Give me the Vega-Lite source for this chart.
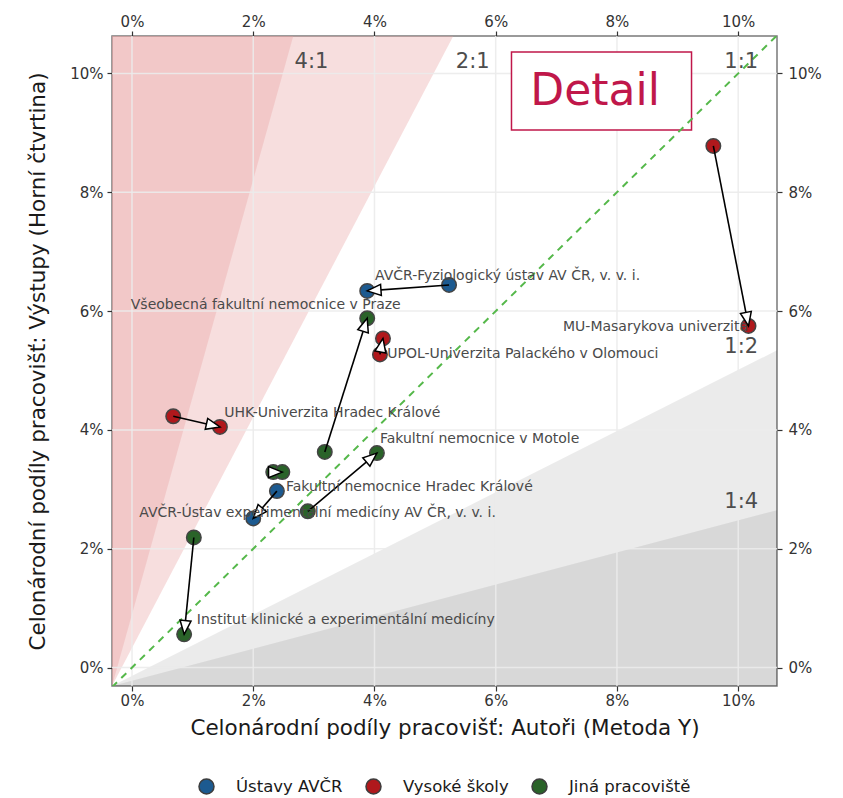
{
  "$schema": "https://vega.github.io/schema/vega-lite/v6.json",
  "width": 665,
  "height": 650,
  "autosize": {"type": "none"},
  "padding": {"left": 112, "top": 36, "right": 66, "bottom": 112},
  "background": "white",
  "config": {
    "font": "DejaVu Sans",
    "view": {"stroke": "#7a7a7a", "strokeWidth": 1.5},
    "axis": {
      "labelFont": "DejaVu Sans", "titleFont": "DejaVu Sans",
      "labelFontSize": 15, "titleFontSize": 21.5, "titleFontWeight": "normal",
      "labelColor": "#333333", "titleColor": "#1a1a1a",
      "tickColor": "#333333", "tickSize": 5, "tickWidth": 1.2,
      "domain": false, "grid": false
    },
    "legend": {
      "orient": "none", "legendX": 86, "legendY": 742, "direction": "horizontal",
      "labelFont": "DejaVu Sans", "labelFontSize": 16.5, "labelColor": "#1a1a1a",
      "symbolSize": 225, "symbolStrokeWidth": 1.5, "symbolStrokeColor": "#3d3d3d",
      "symbolType": "circle", "columnPadding": 20, "labelOffset": 21
    }
  },
  "datasets": {
    "moves": [
      {"name": "AVČR-Fyziologický ústav AV ČR, v. v. i.", "grp": "Ústavy AVČR", "x0": 5.23, "y0": 6.44, "x1": 3.88, "y1": 6.34},
      {"name": "Všeobecná fakultní nemocnice v Praze", "grp": "Jiná pracoviště", "x0": 3.18, "y0": 3.63, "x1": 3.88, "y1": 5.88},
      {"name": "UPOL-Univerzita Palackého v Olomouci", "grp": "Vysoké školy", "x0": 4.09, "y0": 5.27, "x1": 4.14, "y1": 5.54},
      {"name": "UHK-Univerzita Hradec Králové", "grp": "Vysoké školy", "x0": 0.68, "y0": 4.23, "x1": 1.45, "y1": 4.05},
      {"name": "Fakultní nemocnice v Motole", "grp": "Jiná pracoviště", "x0": 2.90, "y0": 2.63, "x1": 4.04, "y1": 3.61},
      {"name": "Fakultní nemocnice Hradec Králové", "grp": "Jiná pracoviště", "x0": 2.33, "y0": 3.29, "x1": 2.48, "y1": 3.29},
      {"name": "AVČR-Ústav experimentální medicíny AV ČR, v. v. i.", "grp": "Ústavy AVČR", "x0": 2.39, "y0": 2.97, "x1": 2.00, "y1": 2.51},
      {"name": "Institut klinické a experimentální medicíny", "grp": "Jiná pracoviště", "x0": 1.02, "y0": 2.19, "x1": 0.86, "y1": 0.56},
      {"name": "MU-Masarykova univerzita", "grp": "Vysoké školy", "x0": 9.59, "y0": 8.78, "x1": 10.17, "y1": 5.75}
    ],
    "labels": [
      {"t": "AVČR-Fyziologický ústav AV ČR, v. v. i.", "x": 4.01, "y": 6.59},
      {"t": "Všeobecná fakultní nemocnice v Praze", "x": -0.02, "y": 6.10},
      {"t": "UPOL-Univerzita Palackého v Olomouci", "x": 4.21, "y": 5.28},
      {"t": "UHK-Univerzita Hradec Králové", "x": 1.52, "y": 4.29},
      {"t": "Fakultní nemocnice v Motole", "x": 4.09, "y": 3.85},
      {"t": "Fakultní nemocnice Hradec Králové", "x": 2.54, "y": 3.04},
      {"t": "AVČR-Ústav experimentální medicíny AV ČR, v. v. i.", "x": 0.12, "y": 2.60},
      {"t": "Institut klinické a experimentální medicíny", "x": 1.07, "y": 0.80},
      {"t": "MU-Masarykova univerzita", "x": 7.11, "y": 5.74}
    ],
    "ratios": [
      {"t": "4:1", "x": 2.96, "y": 10.19},
      {"t": "2:1", "x": 5.62, "y": 10.19},
      {"t": "1:1", "x": 10.05, "y": 10.19},
      {"t": "1:2", "x": 10.05, "y": 5.39},
      {"t": "1:4", "x": 10.05, "y": 2.79}
    ],
    "regions": [
      {"reg": "up2", "x": -0.33, "ylo": -0.31, "yhi": 10.63},
      {"reg": "up2", "x": 5.30, "ylo": 10.63, "yhi": 10.63},
      {"reg": "up4", "x": -0.33, "ylo": -0.31, "yhi": 10.63},
      {"reg": "up4", "x": 2.66, "ylo": 10.63, "yhi": 10.63},
      {"reg": "dn2", "x": -0.33, "ylo": -0.31, "yhi": -0.31},
      {"reg": "dn2", "x": 10.64, "ylo": 5.34, "yhi": -0.31},
      {"reg": "dn4", "x": -0.33, "ylo": -0.31, "yhi": -0.31},
      {"reg": "dn4", "x": 10.64, "ylo": 2.65, "yhi": -0.31}
    ],
    "grid": [{"v": 0}, {"v": 2}, {"v": 4}, {"v": 6}, {"v": 8}, {"v": 10}],
    "diag": [{"x": -0.33, "y": -0.33, "x2": 10.64, "y2": 10.64}],
    "box": [{"x": 6.26, "x2": 9.23, "y": 9.05, "y2": 10.36, "t": "Detail", "tx": 7.64, "ty": 9.69}]
  },
  "resolve": {"axis": {"x": "independent", "y": "independent"}},
  "layer": [
    {
      "data": {"name": "regions"},
      "transform": [{"filter": "datum.reg == 'up2'"}],
      "mark": {"type": "area", "fill": "#e8a0a0", "fillOpacity": 0.35, "clip": true},
      "encoding": {
        "x": {"field": "x", "type": "quantitative", "scale": {"domain": [-0.33, 10.64], "nice": false, "zero": false},
          "axis": {"orient": "bottom", "title": "Celonárodní podíly pracovišť: Autoři (Metoda Y)", "values": [0, 2, 4, 6, 8, 10], "labelExpr": "datum.value + '%'", "labelPadding": 2, "titlePadding": 9}},
        "y": {"field": "ylo", "type": "quantitative", "scale": {"domain": [-0.31, 10.63], "nice": false, "zero": false},
          "axis": {"orient": "left", "title": "Celonárodní podíly pracovišť: Výstupy (Horní čtvrtina)", "values": [0, 2, 4, 6, 8, 10], "labelExpr": "datum.value + '%'", "labelPadding": 4, "titlePadding": 20}},
        "y2": {"field": "yhi"}
      }
    },
    {
      "data": {"name": "regions"},
      "transform": [{"filter": "datum.reg == 'up4'"}],
      "mark": {"type": "area", "fill": "#e8a0a0", "fillOpacity": 0.35, "clip": true},
      "encoding": {
        "x": {"field": "x", "type": "quantitative", "scale": {"domain": [-0.33, 10.64], "nice": false, "zero": false},
          "axis": {"orient": "top", "title": null, "values": [0, 2, 4, 6, 8, 10], "labelExpr": "datum.value + '%'", "labelPadding": 2}},
        "y": {"field": "ylo", "type": "quantitative", "scale": {"domain": [-0.31, 10.63], "nice": false, "zero": false},
          "axis": {"orient": "right", "title": null, "values": [0, 2, 4, 6, 8, 10], "labelExpr": "datum.value + '%'", "labelPadding": 6}},
        "y2": {"field": "yhi"}
      }
    },
    {
      "data": {"name": "regions"},
      "transform": [{"filter": "datum.reg == 'dn2'"}],
      "mark": {"type": "area", "fill": "#000000", "fillOpacity": 0.08, "clip": true},
      "encoding": {
        "x": {"field": "x", "type": "quantitative", "scale": {"domain": [-0.33, 10.64], "nice": false, "zero": false}, "axis": null},
        "y": {"field": "ylo", "type": "quantitative", "scale": {"domain": [-0.31, 10.63], "nice": false, "zero": false}, "axis": null},
        "y2": {"field": "yhi"}
      }
    },
    {
      "data": {"name": "regions"},
      "transform": [{"filter": "datum.reg == 'dn4'"}],
      "mark": {"type": "area", "fill": "#000000", "fillOpacity": 0.08, "clip": true},
      "encoding": {
        "x": {"field": "x", "type": "quantitative", "scale": {"domain": [-0.33, 10.64], "nice": false, "zero": false}, "axis": null},
        "y": {"field": "ylo", "type": "quantitative", "scale": {"domain": [-0.31, 10.63], "nice": false, "zero": false}, "axis": null},
        "y2": {"field": "yhi"}
      }
    },
    {
      "data": {"name": "grid"},
      "mark": {"type": "rule", "color": "#ebebeb", "strokeWidth": 1.5, "opacity": 0.9},
      "encoding": {
        "x": {"field": "v", "type": "quantitative", "scale": {"domain": [-0.33, 10.64], "nice": false, "zero": false}, "axis": null}
      }
    },
    {
      "data": {"name": "grid"},
      "mark": {"type": "rule", "color": "#ebebeb", "strokeWidth": 1.5, "opacity": 0.9},
      "encoding": {
        "y": {"field": "v", "type": "quantitative", "scale": {"domain": [-0.31, 10.63], "nice": false, "zero": false}, "axis": null}
      }
    },
    {
      "data": {"name": "box"},
      "mark": {"type": "rect", "fill": "white", "stroke": "#c0174a", "strokeWidth": 1.5},
      "encoding": {
        "x": {"field": "x", "type": "quantitative", "scale": {"domain": [-0.33, 10.64], "nice": false, "zero": false}, "axis": null},
        "x2": {"field": "x2"},
        "y": {"field": "y", "type": "quantitative", "scale": {"domain": [-0.31, 10.63], "nice": false, "zero": false}, "axis": null},
        "y2": {"field": "y2"}
      }
    },
    {
      "data": {"name": "diag"},
      "mark": {"type": "rule", "color": "#55b84a", "strokeWidth": 2, "strokeDash": [7, 6], "clip": true},
      "encoding": {
        "x": {"field": "x", "type": "quantitative", "scale": {"domain": [-0.33, 10.64], "nice": false, "zero": false}, "axis": null},
        "x2": {"field": "x2"},
        "y": {"field": "y", "type": "quantitative", "scale": {"domain": [-0.31, 10.63], "nice": false, "zero": false}, "axis": null},
        "y2": {"field": "y2"}
      }
    },
    {
      "data": {"name": "moves"},
      "mark": {"type": "point", "filled": true, "opacity": 1, "size": 210, "stroke": "#444444", "strokeWidth": 1.5},
      "encoding": {
        "x": {"field": "x0", "type": "quantitative", "scale": {"domain": [-0.33, 10.64], "nice": false, "zero": false}, "axis": null},
        "y": {"field": "y0", "type": "quantitative", "scale": {"domain": [-0.31, 10.63], "nice": false, "zero": false}, "axis": null},
        "color": {"field": "grp", "type": "nominal", "title": null,
          "scale": {"domain": ["Ústavy AVČR", "Vysoké školy", "Jiná pracoviště"], "range": ["#1c5a90", "#b0181c", "#2a6329"]}}
      }
    },
    {
      "data": {"name": "moves"},
      "mark": {"type": "point", "filled": true, "opacity": 1, "size": 210, "stroke": "#444444", "strokeWidth": 1.5},
      "encoding": {
        "x": {"field": "x1", "type": "quantitative", "scale": {"domain": [-0.33, 10.64], "nice": false, "zero": false}, "axis": null},
        "y": {"field": "y1", "type": "quantitative", "scale": {"domain": [-0.31, 10.63], "nice": false, "zero": false}, "axis": null},
        "color": {"field": "grp", "type": "nominal", "title": null,
          "scale": {"domain": ["Ústavy AVČR", "Vysoké školy", "Jiná pracoviště"], "range": ["#1c5a90", "#b0181c", "#2a6329"]}}
      }
    },
    {
      "data": {"name": "moves"},
      "mark": {"type": "rule", "color": "black", "strokeWidth": 1.6},
      "encoding": {
        "x": {"field": "x0", "type": "quantitative", "scale": {"domain": [-0.33, 10.64], "nice": false, "zero": false}, "axis": null},
        "x2": {"field": "x1"},
        "y": {"field": "y0", "type": "quantitative", "scale": {"domain": [-0.31, 10.63], "nice": false, "zero": false}, "axis": null},
        "y2": {"field": "y1"}
      }
    },
    {
      "data": {"name": "moves"},
      "transform": [{"calculate": "atan2((datum.x1 - datum.x0) * 60.62, (datum.y1 - datum.y0) * 59.41) * 180 / PI", "as": "ang"}],
      "mark": {"type": "point", "shape": "M0,0L-0.8,2L0.8,2Z", "filled": true, "fill": "white", "stroke": "black", "strokeWidth": 1.5, "opacity": 1, "size": 190},
      "encoding": {
        "x": {"field": "x1", "type": "quantitative", "scale": {"domain": [-0.33, 10.64], "nice": false, "zero": false}, "axis": null},
        "y": {"field": "y1", "type": "quantitative", "scale": {"domain": [-0.31, 10.63], "nice": false, "zero": false}, "axis": null},
        "angle": {"field": "ang", "type": "quantitative", "scale": null}
      }
    },
    {
      "data": {"name": "labels"},
      "mark": {"type": "text", "align": "left", "baseline": "middle", "fontSize": 14, "color": "#4a4a4a"},
      "encoding": {
        "x": {"field": "x", "type": "quantitative", "scale": {"domain": [-0.33, 10.64], "nice": false, "zero": false}, "axis": null},
        "y": {"field": "y", "type": "quantitative", "scale": {"domain": [-0.31, 10.63], "nice": false, "zero": false}, "axis": null},
        "text": {"field": "t"}
      }
    },
    {
      "data": {"name": "ratios"},
      "mark": {"type": "text", "align": "center", "baseline": "middle", "fontSize": 21, "color": "#4d4d4d"},
      "encoding": {
        "x": {"field": "x", "type": "quantitative", "scale": {"domain": [-0.33, 10.64], "nice": false, "zero": false}, "axis": null},
        "y": {"field": "y", "type": "quantitative", "scale": {"domain": [-0.31, 10.63], "nice": false, "zero": false}, "axis": null},
        "text": {"field": "t"}
      }
    },
    {
      "data": {"name": "box"},
      "mark": {"type": "text", "align": "center", "baseline": "middle", "fontSize": 44, "color": "#c0174a"},
      "encoding": {
        "x": {"field": "tx", "type": "quantitative", "scale": {"domain": [-0.33, 10.64], "nice": false, "zero": false}, "axis": null},
        "y": {"field": "ty", "type": "quantitative", "scale": {"domain": [-0.31, 10.63], "nice": false, "zero": false}, "axis": null},
        "text": {"field": "t"}
      }
    }
  ]
}
